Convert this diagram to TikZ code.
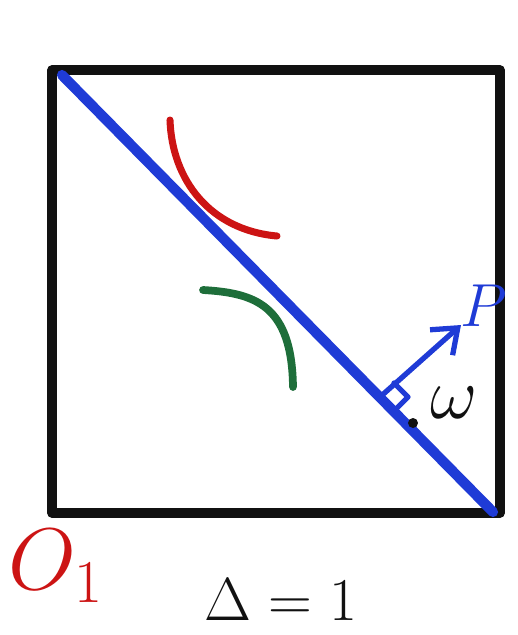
\documentclass[tikz,border=0pt]{standalone}
\usepackage{xcolor}
\usepackage{tikz}
\usetikzlibrary{arrows.meta}
\definecolor{pen}{HTML}{1F3BD6}
\definecolor{ink}{HTML}{111111}
\definecolor{redpen}{HTML}{CC1414}
\definecolor{greenpen}{HTML}{1E6E3A}

\begin{document}
\begin{tikzpicture}[x=0.01cm,y=-0.01cm,line cap=round,line join=round,
    frame/.style={draw=ink,line width=2.6pt},
    plane/.style={draw=pen,line width=2.9pt},
    normal/.style={draw=pen,line width=1.5pt},
    curveA/.style={draw=redpen,line width=2pt},
    curveB/.style={draw=greenpen,line width=2.2pt},
    label/.style={inner sep=0pt}]
    \useasboundingbox (0,0) rectangle (517,635);
    \draw[frame] (52,70) rectangle (500,513);
    \coordinate (start) at (62,75);
    \coordinate (end) at (493,512);
    \draw[plane] (start) -- (end);
    \draw[curveA] (170,120) .. controls (172,180) and (210,230) .. (277,236);
    \draw[curveB] (203,290) .. controls (255,293) and (292,305) .. (293,387);
    \coordinate (foot) at (380,397);
    \node[label,text=pen,font=\fontsize{17}{20}\selectfont] (P) at (484,306) {$P$};
    \coordinate (tip) at (461,325);
    \draw[normal,-{Straight Barb[length=2.2mm,width=3.4mm]}] (foot) -- (tip);
    \draw[normal] (foot) ++(14,-14) -- ++(14,14) -- ++(-14,14);
    \fill[ink] (413,423) circle (5);
    \node[label,text=ink,font=\fontsize{22}{26}\selectfont] (w) at (454,403) {$\omega$};
    \node[label,anchor=west,text=redpen,font=\fontsize{23}{27}\selectfont] (O) at (8,566) {$O_1$};
    \node[label,text=ink,font=\fontsize{19}{23}\selectfont] (D) at (281,600) {$\Delta=1$};
\end{tikzpicture}
\end{document}
